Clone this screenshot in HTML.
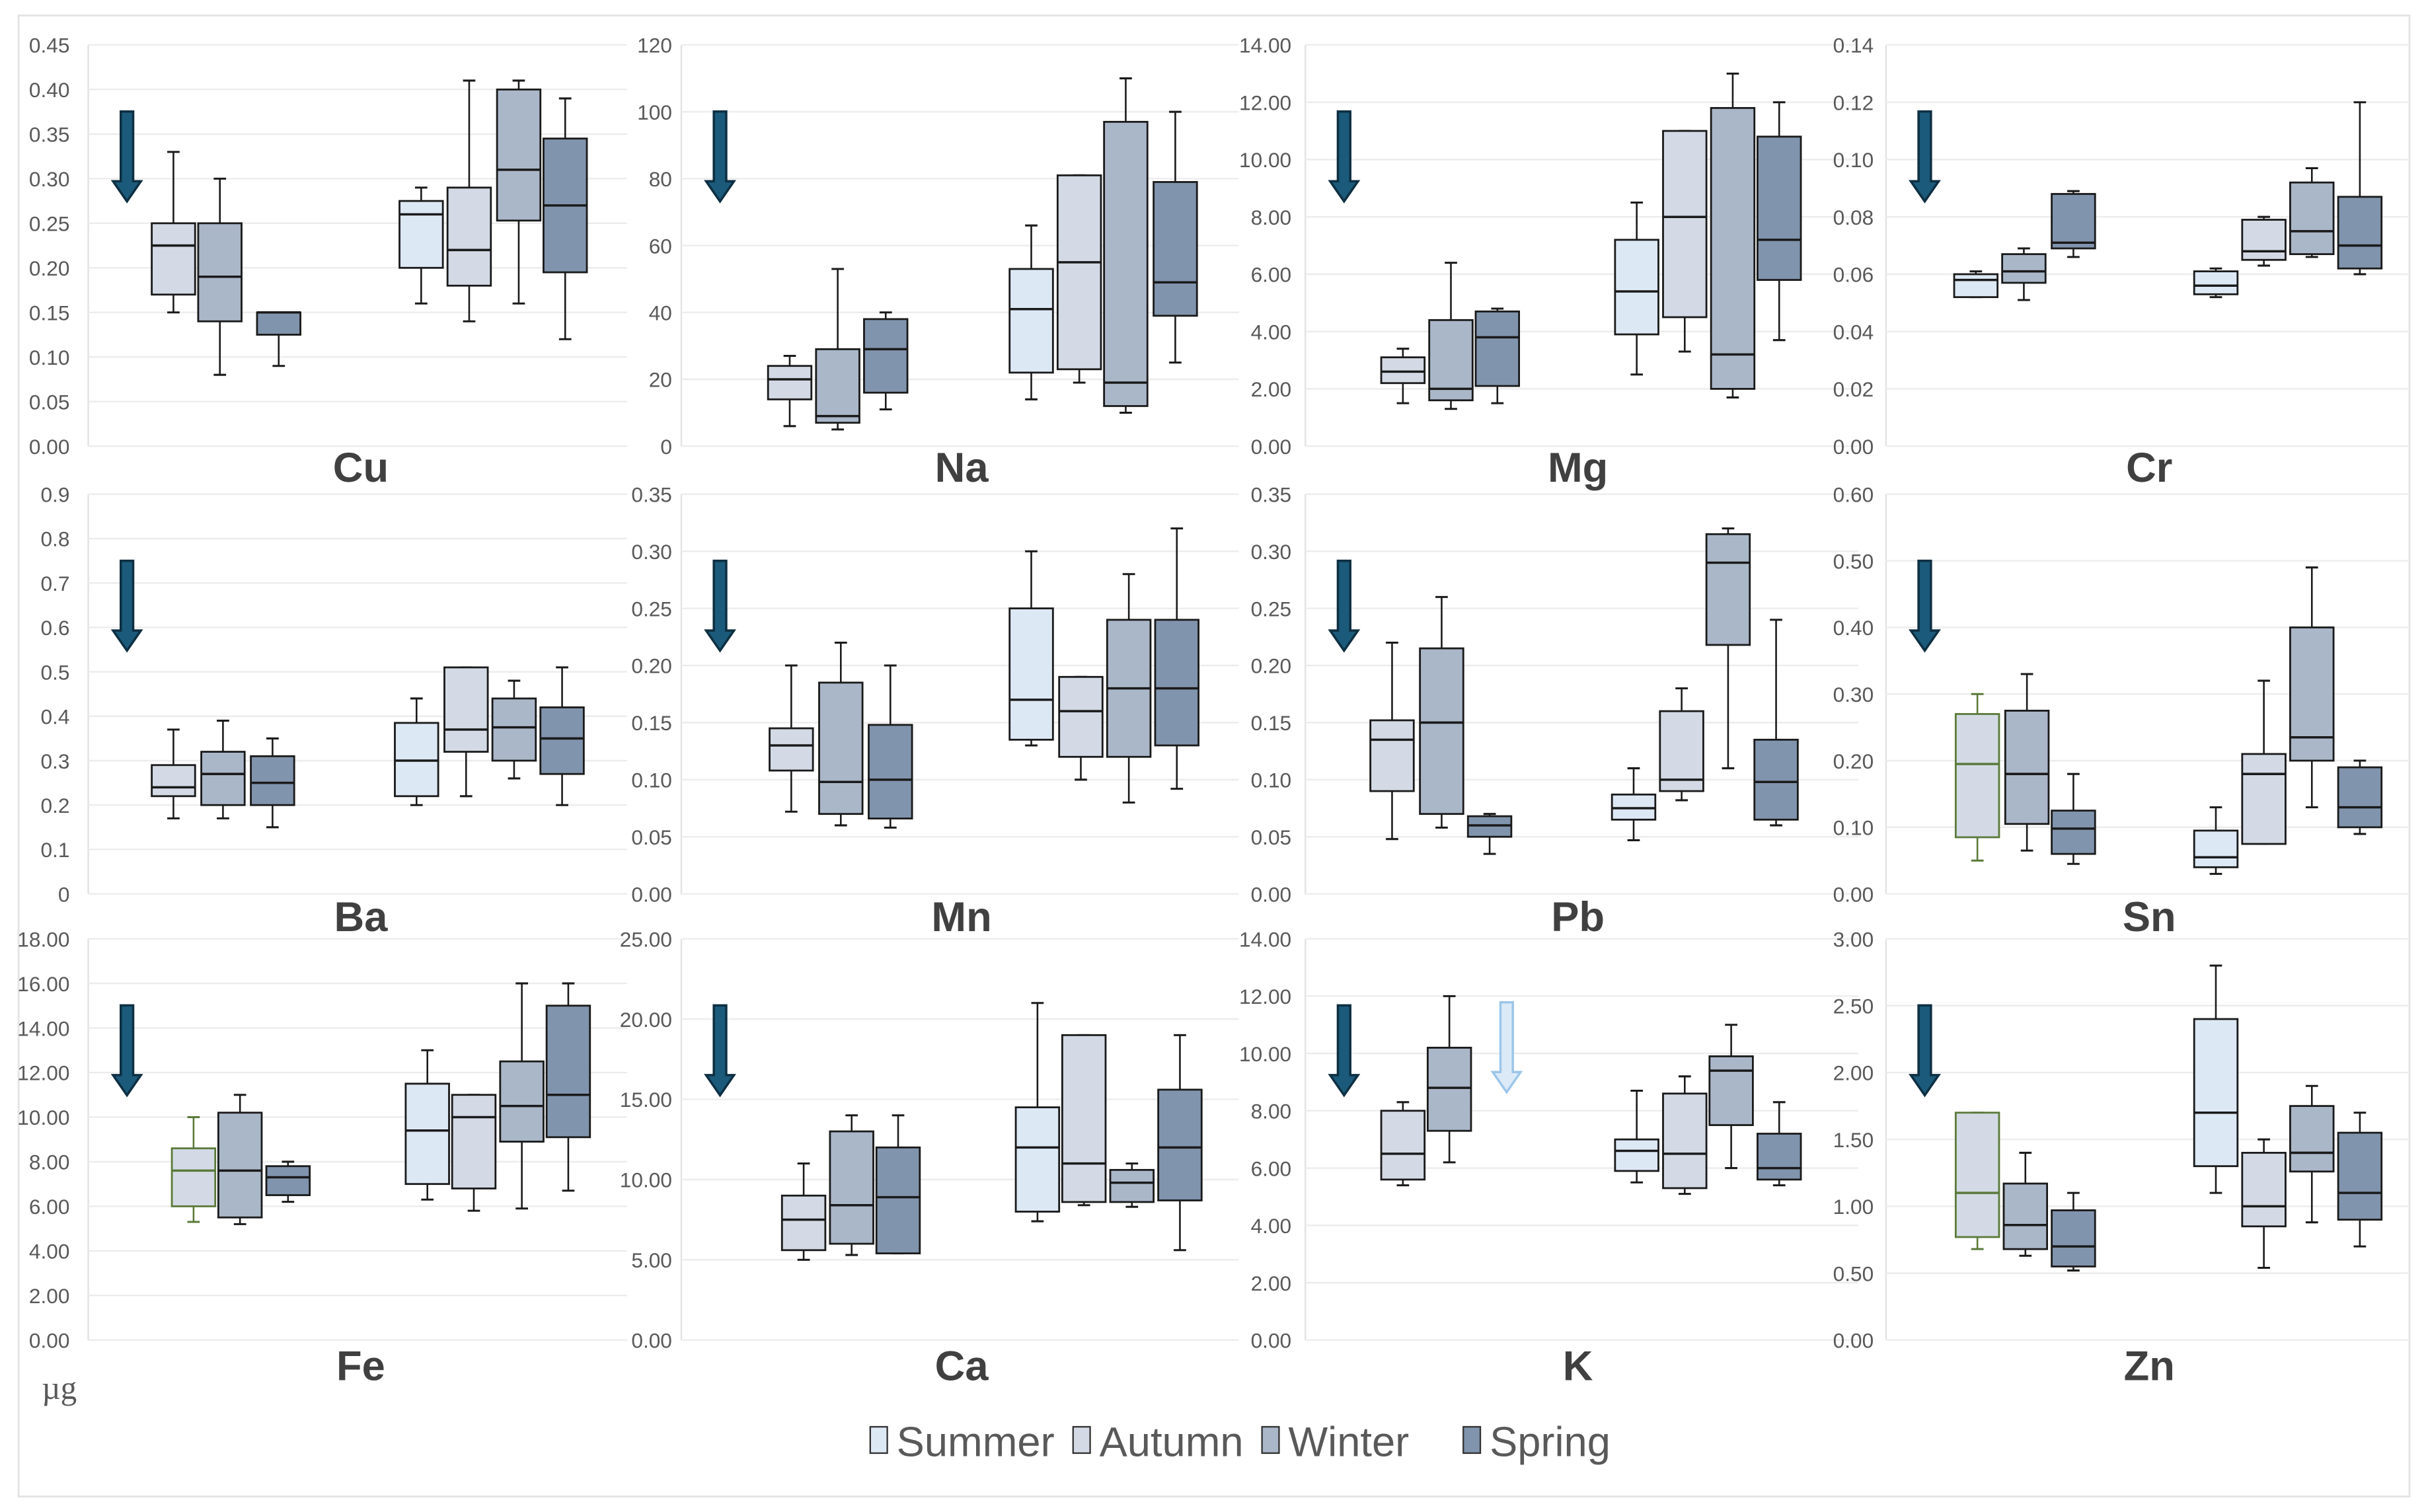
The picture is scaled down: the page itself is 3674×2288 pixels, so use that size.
<!DOCTYPE html>
<html><head><meta charset="utf-8">
<style>
html,body{margin:0;padding:0;background:#fff;}
svg{display:block;}
text{font-family:"Liberation Sans",sans-serif;}
</style></head>
<body>
<svg id="chart" width="3674" height="2288" viewBox="0 0 1568 976" preserveAspectRatio="none" xmlns="http://www.w3.org/2000/svg">
<rect x="12" y="10" width="1544" height="956" fill="#fff" stroke="#e4e4e4" stroke-width="1.2"/>
<text x="27" y="903" font-size="21" fill="#595959" style="font-family:'Liberation Serif',serif">µg</text>
<g id="legend"></g>
</svg>
<script>
// ---- data ----
const panelNames = ["Cu","Na","Mg","Cr","Ba","Mn","Pb","Sn","Fe","Ca","K","Zn"];
const axisMax = [0.45,120,14,0.14,0.9,0.35,0.35,0.60,18,25,14,3];
const axisStep = [0.05,20,2,0.02,0.1,0.05,0.05,0.10,2,5,2,0.5];
const axisDecimals = [2,0,2,2,1,2,2,2,2,2,2,2];
const seasons = ["Summer","Autumn","Winter","Spring"];
// each box: [seasonIndex, min, q1, median, q3, max]
const statsCu = [[1,.15,.17,.225,.25,.33],[2,.08,.14,.19,.25,.30],[3,.09,.125,.15,.15,.15],
  [0,.16,.20,.26,.275,.29],[1,.14,.18,.22,.29,.41],[2,.16,.253,.31,.40,.41],[3,.12,.195,.27,.345,.39]];
const statsNa = [[1,6,14,20,24,27],[2,5,7,9,29,53],[3,11,16,29,38,40],
  [0,14,22,41,53,66],[1,19,23,55,81,81],[2,10,12,19,97,110],[3,25,39,49,79,100]];
const statsMg = [[1,1.5,2.2,2.6,3.1,3.4],[2,1.3,1.6,2.0,4.4,6.4],[3,1.5,2.1,3.8,4.7,4.8],
  [0,2.5,3.9,5.4,7.2,8.5],[1,3.3,4.5,8.0,11,11],[2,1.7,2.0,3.2,11.8,13],[3,3.7,5.8,7.2,10.8,12]];
const statsCr = [[0,.052,.052,.058,.060,.061],[2,.051,.057,.061,.067,.069],[3,.066,.069,.071,.088,.089],
  [0,.052,.053,.056,.061,.062],[1,.063,.065,.068,.079,.080],[2,.066,.067,.075,.092,.097],[3,.060,.062,.070,.087,.120]];
const statsBa = [[1,.17,.22,.24,.29,.37],[2,.17,.20,.27,.32,.39],[3,.15,.20,.25,.31,.35],
  [0,.20,.22,.30,.385,.44],[1,.22,.32,.37,.51,.51],[2,.26,.30,.375,.44,.48],[3,.20,.27,.35,.42,.51]];
const statsMn = [[1,.072,.108,.13,.145,.20],[2,.06,.07,.098,.185,.22],[3,.058,.066,.10,.148,.20],
  [0,.13,.135,.17,.25,.30],[1,.10,.12,.16,.19,.19],[2,.08,.12,.18,.24,.28],[3,.092,.13,.18,.24,.32]];
const statsPb = [[1,.048,.09,.135,.152,.22],[2,.058,.07,.15,.215,.26],[3,.035,.05,.06,.068,.07],
  [0,.047,.065,.075,.087,.11],[1,.082,.09,.10,.16,.18],[2,.11,.218,.29,.315,.32],[3,.06,.065,.098,.135,.24]];
const statsSn = [[1,.05,.085,.195,.27,.30],[2,.065,.105,.18,.275,.33],[3,.045,.06,.098,.125,.18],
  [0,.03,.04,.055,.095,.13],[1,.075,.075,.18,.21,.32],[2,.13,.20,.235,.40,.49],[3,.09,.10,.13,.19,.20]];
const statsFe = [[1,5.3,6.0,7.6,8.6,10],[2,5.2,5.5,7.6,10.2,11],[3,6.2,6.5,7.3,7.8,8.0],
  [0,6.3,7.0,9.4,11.5,13],[1,5.8,6.8,10,11,11],[2,5.9,8.9,10.5,12.5,16],[3,6.7,9.1,11,15,16]];
const statsCa = [[1,5.0,5.6,7.5,9.0,11],[2,5.3,6.0,8.4,13,14],[3,5.4,5.4,8.9,12,14],
  [0,7.4,8.0,12,14.5,21],[1,8.4,8.6,11,19,19],[2,8.3,8.6,9.8,10.6,11],[3,5.6,8.7,12,15.6,19]];
const statsK = [[1,5.4,5.6,6.5,8.0,8.3],[2,6.2,7.3,8.8,10.2,12],
  [0,5.5,5.9,6.6,7.0,8.7],[1,5.1,5.3,6.5,8.6,9.2],[2,6.0,7.5,9.4,9.9,11],[3,5.4,5.6,6.0,7.2,8.3]];
const statsZn = [[1,.68,.77,1.1,1.7,1.7],[2,.63,.68,.86,1.17,1.4],[3,.52,.55,.70,.97,1.1],
  [0,1.1,1.3,1.7,2.4,2.8],[1,.54,.85,1.0,1.4,1.5],[2,.88,1.26,1.4,1.75,1.9],[3,.70,.90,1.1,1.55,1.7]];
const panelStats = [statsCu,statsNa,statsMg,statsCr,statsBa,statsMn,statsPb,statsSn,statsFe,statsCa,statsK,statsZn];

// ---- layout (not data) ----
const colPlotL = [57,440,843,1218];
const colPlotR = [405,800,1200,1555];
const colLabelX = [45,434,834,1210];
const colTitleX = [233,621,1019,1388];
const rowTop = [29,319,606];
const rowBot = [288,577,865];
const rowTitleY = [311,601,891];
const boxLefts = [
  [98,128,166,258,289,321,351],[496,527,558,652,683,713,745],[892,923,953,1043,1074,1105,1135],[1262,1293,1325,1417,1448,1479,1510],
  [98,130,162,255,287,318,349],[497,529,561,652,684,715,746],[885,917,948,1041,1072,1102,1133],[1263,1295,1325,1417,1448,1479,1510],
  [111,141,172,262,292,323,353],[505,536,566,656,686,717,748],[892,922,1043,1074,1104,1135],[1263,1294,1325,1417,1448,1479,1510]];
const greenOutline = {"Fe":0,"Sn":0,"Zn":0};
const fills = ["#dde8f5","#d3dae5","#aab7c9","#8194ad"];
const NS = "http://www.w3.org/2000/svg";
const svg = document.getElementById("chart");
function mk(tag, attrs, parent){const e=document.createElementNS(NS,tag);for(const k in attrs)e.setAttribute(k,attrs[k]);(parent||svg).appendChild(e);return e;}

function drawArrow(g, cx, y0, y1, light){
  const d = `M${cx-4},${y0} L${cx+4},${y0} L${cx+4},${y1-13} L${cx+9},${y1-13} L${cx},${y1} L${cx-9},${y1-13} L${cx-4},${y1-13} Z`;
  const a = mk("path",{d:d,fill:light?"#dceaf8":"#1b5a7a",stroke:light?"#9cc6ea":"#0e2f42","stroke-width":1.5},g);
  
  
}

panelNames.forEach((name,p)=>{
  const col=p%4,row=Math.floor(p/4);
  const L=colPlotL[col],R=colPlotR[col],T=rowTop[row],B=rowBot[row];
  const max=axisMax[p];
  const y=v=>B-(v/max)*(B-T);
  const g=mk("g",{});
  
  
  const ax=mk("line",{x1:L,x2:L,y1:T,y2:B,stroke:"#e2e2e2","stroke-width":1},g);
  
  
  const n=Math.round(max/axisStep[p]);
  for(let i=0;i<=n;i++){
    const v=i*axisStep[p];
    const gl=mk("line",{x1:L,x2:R,y1:y(v),y2:y(v),stroke:"#ececec","stroke-width":1},g);
    
    
    const t=mk("text",{x:colLabelX[col],y:y(v)+5,"font-size":13.5,fill:"#595959","text-anchor":"end"},g);
    
    
    t.textContent=(v===0&&axisDecimals[p]===1)?"0":v.toFixed(axisDecimals[p]);
  }
  drawArrow(g,L+25,T+43,T+101,false);
  if(name==="K") drawArrow(g,973,T+41,T+99,true);
  panelStats[p].forEach((s,i)=>{
    const x0=boxLefts[p][i],w=28,cx=x0+w/2;
    const green=(name in greenOutline)&&i===0;
    const sc=green?"#5a7a3a":"#1a1a1a";
    const bg=mk("g",{},g);
    
    
    mk("line",{x1:cx,x2:cx,y1:y(s[5]),y2:y(s[4]),stroke:sc,"stroke-width":1.1},bg);
    mk("line",{x1:cx,x2:cx,y1:y(s[2]),y2:y(s[1]),stroke:sc,"stroke-width":1.1},bg);
    mk("line",{x1:cx-4,x2:cx+4,y1:y(s[5]),y2:y(s[5]),stroke:sc,"stroke-width":1.3},bg);
    mk("line",{x1:cx-4,x2:cx+4,y1:y(s[1]),y2:y(s[1]),stroke:sc,"stroke-width":1.3},bg);
    mk("rect",{x:x0,y:y(s[4]),width:w,height:Math.max(0.5,y(s[2])-y(s[4])),fill:fills[s[0]],stroke:sc,"stroke-width":1.2},bg);
    mk("line",{x1:x0,x2:x0+w,y1:y(s[3]),y2:y(s[3]),stroke:sc,"stroke-width":1.5},bg);
  });
  const tt=mk("text",{x:colTitleX[col],y:rowTitleY[row],"font-size":27,"font-weight":"bold",fill:"#404040","text-anchor":"middle"},g);
  
  
  tt.textContent=name;
});

// legend
const legX=[562,693,815,945];
const lg=document.getElementById("legend");
seasons.forEach((s,i)=>{
  const it=mk("g",{},lg);
  
  
  mk("rect",{x:legX[i],y:921,width:11,height:17,fill:fills[i],stroke:"#333","stroke-width":1},it);
  const t=mk("text",{x:legX[i]+17,y:940,"font-size":27,fill:"#595959"},it);
  t.textContent=s;
});
</script>
</body></html>
